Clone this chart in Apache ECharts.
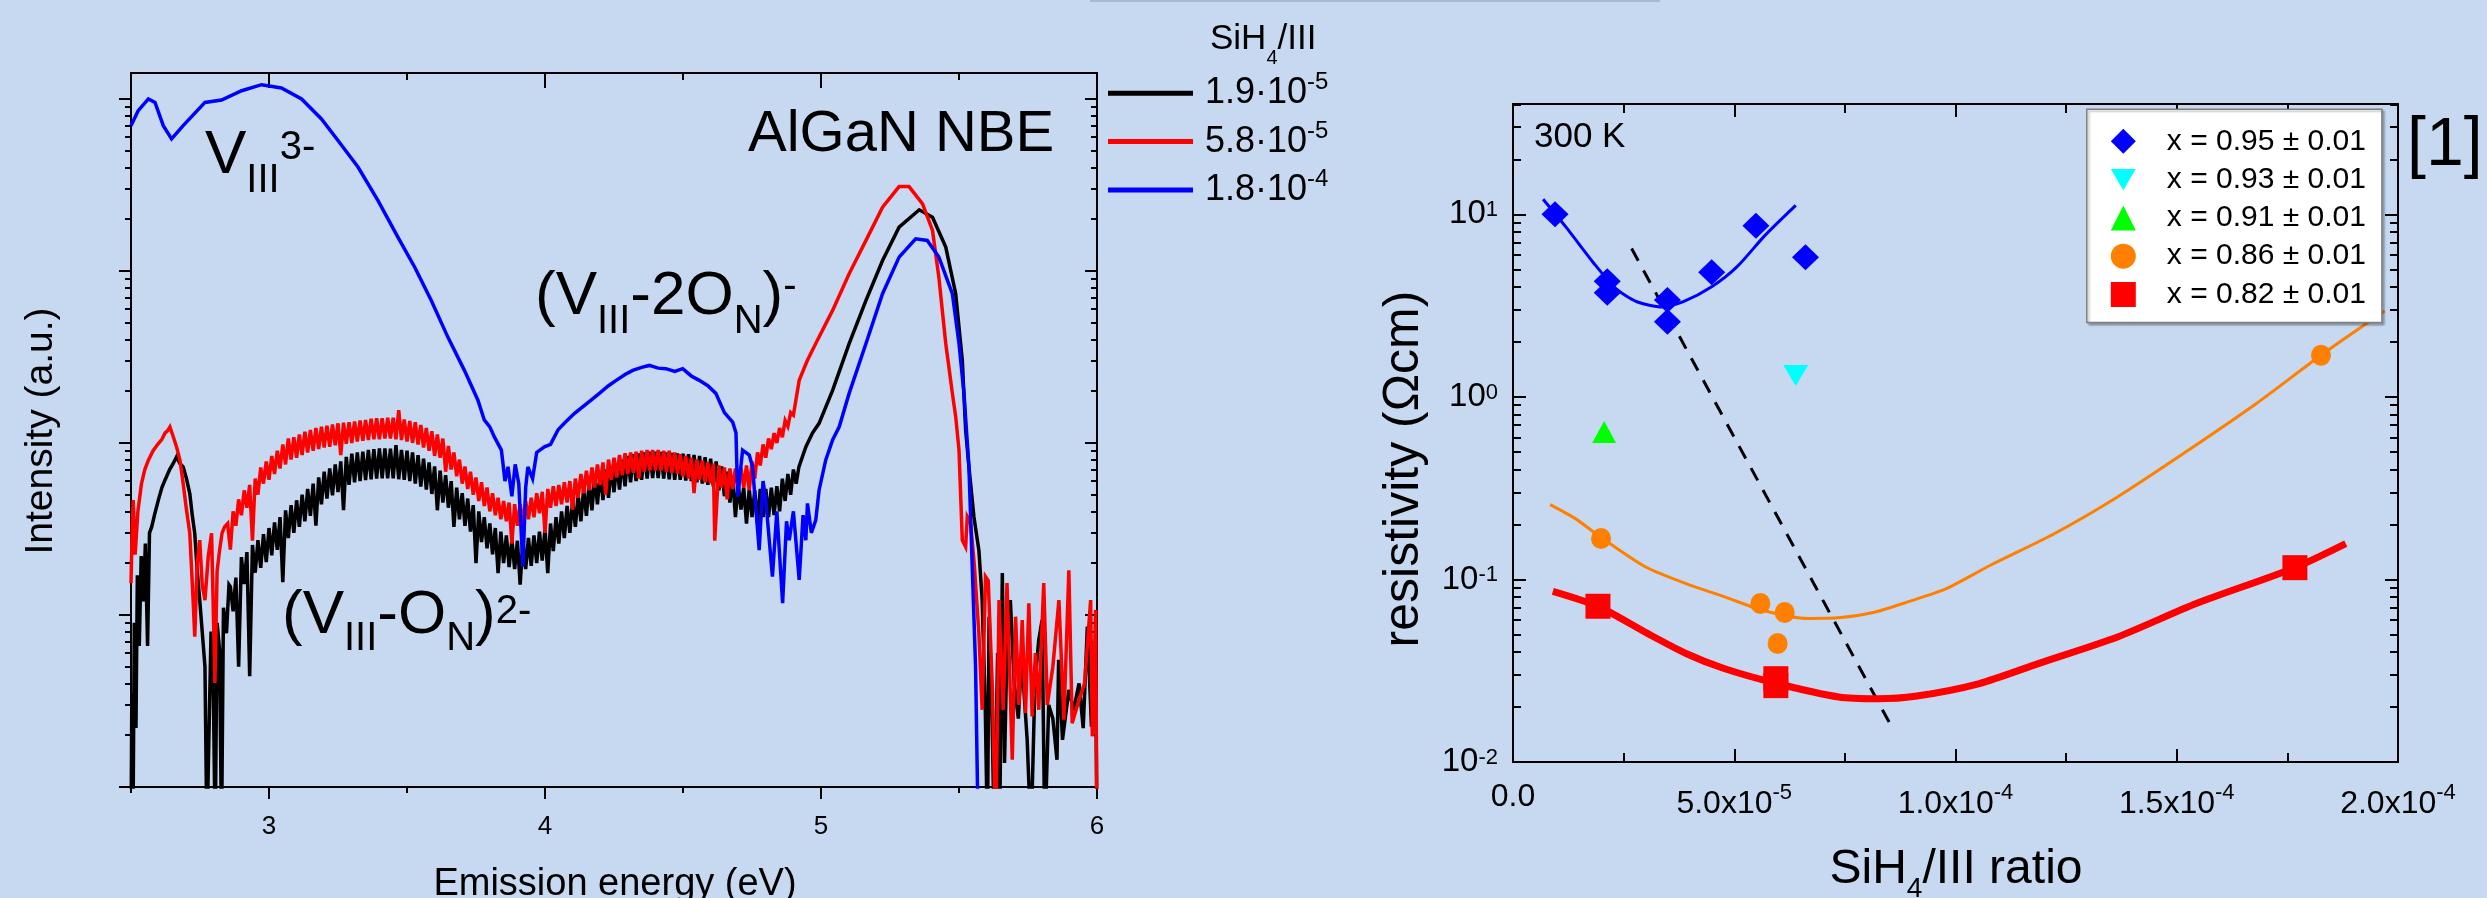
<!DOCTYPE html>
<html><head><meta charset="utf-8">
<script src="https://cdn.jsdelivr.net/npm/echarts@6/dist/echarts.min.js"></script>
<style>html,body{margin:0;padding:0;background:#c6d9f1;}#c{width:2487px;height:898px;}</style>
</head><body><div id="c"></div>
<script>
// ================= DATA =================
// Left panel: PL spectra, [energy eV, intensity a.u.]
const spectrumNames = ['1.9·10^-5', '5.8·10^-5', '1.8·10^-4'];
const legendMantissa = ['1.9', '5.8', '1.8'];
const legendExponent = ['-5', '-5', '-4'];
const energyRange = [2.5, 6];
const energyTicks = [3, 4, 5, 6];
const energyHalfTicks = [2.5, 3.5, 4.5, 5.5];
const intensityRange = [1, 14125];

const spec19 = [[2.500,0.5],[2.503,3.5],[2.507,0.5],[2.512,9],[2.518,2.2],[2.523,17],[2.530,6.6],[2.537,22],[2.545,12],[2.552,26],[2.560,6.6],[2.567,30],[2.575,32.5],[2.585,38],[2.599,46.5],[2.612,55],[2.623,60.7],[2.640,70],[2.653,75.9],[2.665,83.0],[2.677,76],[2.689,72.6],[2.701,62],[2.713,50.8],[2.722,38],[2.731,29.8],[2.740,18],[2.749,12.2],[2.758,8],[2.768,5.0],[2.775,0.5],[2.782,0.5],[2.790,8],[2.798,4.02],[2.805,0.5],[2.812,9],[2.821,6.27],[2.828,0.5],[2.835,11],[2.846,7.83],[2.855,15],
[2.86,14.6],[2.87,10.5],[2.88,16.5],[2.89,5],[2.90,21.7],[2.91,15.1],[2.92,23.2],[2.93,4.4],[2.94,25.5],[2.95,17.6],[2.96,27.2],[2.97,18.8],[2.98,29.5],[2.99,20.3],[3.00,32],[3.01,22.2],[3.02,34.5],[3.03,23.9],[3.04,37],[3.05,15.5],[3.06,40.5],[3.07,28],[3.08,43.5],[3.09,30],[3.10,46.4],[3.11,32.5],[3.12,50],[3.13,35],[3.14,54],[3.15,37.7],[3.16,58],[3.17,33],[3.18,63],[3.19,44],[3.20,68],[3.21,47.5],[3.22,71],[3.23,49.5],[3.24,75],[3.25,51.7],[3.26,78],[3.27,40.6],[3.28,83],[3.29,57],[3.30,86.6],[3.31,59],[3.32,88],[3.33,60],[3.34,89],[3.35,60.7],[3.36,91],[3.37,61.5],[3.38,92],[3.39,62],[3.40,93],[3.41,62.3],[3.42,93],[3.43,62.3],[3.44,92.7],[3.45,62.3],[3.46,97],[3.47,61.5],[3.48,91],[3.49,61],[3.50,90],[3.51,60],[3.52,88],[3.53,58],[3.54,85],[3.55,55.8],[3.56,81],[3.57,53.5],[3.58,77],[3.59,50.5],[3.60,73],[3.61,40.6],[3.62,69],[3.63,45],[3.64,65],[3.65,42],[3.66,60],[3.67,32.5],[3.68,55],[3.69,36],[3.70,51],[3.71,33],[3.72,47.5],[3.73,30.5],[3.74,43.5],[3.75,20],[3.76,40],[3.77,26.5],[3.78,37],[3.79,24.4],[3.80,34],[3.81,22.5],[3.82,32],[3.83,17.5],[3.84,30.5],[3.85,20],[3.86,29],[3.87,19],[3.88,27.5],[3.89,18.5],[3.90,27],[3.91,15],[3.92,27],[3.93,18.5],[3.94,28],[3.95,19.3],[3.96,29],[3.97,20],[3.98,30.5],[3.99,20.7],[4.00,31.7],[4.01,17.5],[4.02,34],[4.03,23.5],[4.04,37],[4.05,26],[4.06,40],[4.07,28],[4.08,43],[4.09,30],[4.10,46.4],[4.11,32.5],[4.12,50],[4.13,35],[4.14,54],[4.15,37.7],[4.16,58],[4.17,40.5],[4.18,63],[4.19,44],[4.20,68],[4.21,46.5],[4.22,70],[4.23,48],[4.24,73],[4.25,51.7],[4.26,76],[4.27,53.5],[4.28,80],[4.29,56],[4.30,84],[4.31,59],[4.32,86],[4.33,60],[4.34,87],[4.35,61],[4.36,88],[4.37,62],[4.38,89],[4.39,62.5],[4.40,89],[4.41,62.5],[4.42,88.5],[4.43,62],[4.44,88],[4.45,61.5],[4.46,87.5],[4.47,61],[4.48,87],[4.49,61],[4.50,86.5],[4.51,60.5],[4.52,86],[4.53,60],[4.54,85],[4.55,59],[4.56,84],[4.57,58],[4.58,82.5],[4.59,57],[4.60,81],[4.61,56],[4.62,78],[4.63,53],[4.64,73],[4.65,49],[4.66,68],[4.67,45],[4.68,63],[4.69,37],[4.70,58],[4.71,41],[4.72,55],[4.73,34],[4.74,54],[4.75,37],[4.76,53],[4.77,34],[4.78,54],[4.79,37],[4.80,54],[4.81,37],[4.82,55],[4.83,38],[4.84,56],[4.85,40],[4.86,62],[4.87,46],[4.88,66],[4.89,50],[4.90,70],[4.91,58],[4.92,72.6],
[4.945,94.8],[4.969,114],[4.993,130],[5.042,202],[5.102,378],[5.163,673],[5.223,1148],[5.283,1795],[5.356,2265],[5.404,2051],[5.452,1374],[5.488,736],[5.512,302],[5.524,119],[5.536,72.6],[5.554,37.2],[5.572,23.8],[5.584,12.2],[5.595,3],[5.603,0.5],[5.609,9.77],[5.618,3.5],[5.628,0.5],[5.640,6],[5.647,0.5],[5.657,17.5],[5.665,1.38],[5.675,8],[5.686,12.2],[5.700,4],[5.715,2.5],[5.725,5],[5.735,3.67],[5.747,1.88],[5.761,0.5],[5.775,4],[5.789,7.16],[5.801,9.35],[5.811,0.5],[5.825,3],[5.840,2.5],[5.855,1.44],[5.861,5.48],[5.875,1.88],[5.898,3.67],[5.915,2.8],[5.935,4],[5.950,2.2],[5.965,8.55],[5.980,2.24],[5.995,5.5],[6.000,0.5]];

const spec58 = [[2.500,15.3],[2.504,30],[2.508,46.5],[2.515,22.4],[2.525,40],[2.538,58.1],[2.550,70],[2.563,79.4],[2.580,90],[2.599,99.1],[2.612,105],[2.623,114],[2.633,118],[2.641,124],[2.652,110],[2.665,94.8],[2.677,80],[2.689,58.1],[2.700,42],[2.713,29.8],[2.725,12.2],[2.731,7.48],[2.740,20],[2.749,27.2],[2.758,15],[2.768,12.2],[2.780,22],[2.792,29.8],[2.804,4.02],[2.812,18],[2.821,23.8],[2.830,30],[2.839,32.5],
[2.85,34],[2.86,24],[2.87,40],[2.88,33],[2.89,47],[2.90,38],[2.91,53],[2.92,42],[2.93,57],[2.94,27],[2.95,62],[2.96,50],[2.97,72],[2.98,58],[2.99,78],[3.00,61],[3.01,84],[3.02,66],[3.03,90],[3.04,71],[3.05,98],[3.06,75],[3.07,106],[3.08,80],[3.09,108],[3.10,82],[3.11,112],[3.12,85],[3.13,116],[3.14,88],[3.15,119],[3.16,90],[3.17,122],[3.18,92],[3.19,124],[3.20,94],[3.21,126],[3.22,95],[3.23,128],[3.24,97],[3.25,130],[3.26,85],[3.27,131],[3.28,99],[3.29,132],[3.30,100],[3.31,133],[3.32,102],[3.33,135],[3.34,103],[3.35,136],[3.36,104],[3.37,138],[3.38,105],[3.39,139],[3.40,105],[3.41,139],[3.42,106],[3.43,140],[3.44,106],[3.45,140],[3.46,105],[3.47,155],[3.48,104],[3.49,137],[3.50,102],[3.51,134],[3.52,100],[3.53,132],[3.54,98],[3.55,127],[3.56,94],[3.57,122],[3.58,90],[3.59,117],[3.60,84],[3.61,112],[3.62,82],[3.63,106],[3.64,68],[3.65,96],[3.66,70],[3.67,88],[3.68,64],[3.69,80],[3.70,58],[3.71,73],[3.72,54],[3.73,68],[3.74,50],[3.75,63],[3.76,46],[3.77,59],[3.78,43],[3.79,55],[3.80,40],[3.81,51],[3.82,38],[3.83,48],[3.84,36],[3.85,46],[3.86,35],[3.87,45],[3.88,26],[3.89,44],[3.90,33],[3.91,44],[3.92,34],[3.93,46],[3.94,36],[3.95,48],[3.96,37],[3.97,51],[3.98,39],[3.99,52],[4.00,30],[4.01,54],[4.02,42],[4.03,56],[4.04,43],[4.05,57],[4.06,44],[4.07,59],[4.08,45],[4.09,60],[4.10,41],[4.11,62],[4.12,48],[4.13,66],[4.14,51],[4.15,69],[4.16,53],[4.17,72],[4.18,55],[4.19,75],[4.20,57],[4.21,77],[4.22,50],[4.23,80],[4.24,61],[4.25,82],[4.26,63],[4.27,85],[4.28,65],[4.29,87],[4.30,66],[4.31,88],[4.32,67],[4.33,89],[4.34,62],[4.35,90],[4.36,68],[4.37,91],[4.38,69],[4.39,91],[4.40,69],[4.41,91],[4.42,69],[4.43,90],[4.44,68],[4.45,90],[4.46,67],[4.47,88],[4.48,66],[4.49,86],[4.50,64],[4.51,84],[4.52,62],[4.53,82],[4.54,51],[4.55,80],[4.56,61],[4.57,79],[4.58,59],[4.59,77],[4.60,58],[4.61,76],[4.615,27],[4.63,74],[4.64,55],[4.65,72],[4.66,47],[4.67,71],[4.68,54],[4.69,71],[4.70,54],[4.71,72],[4.72,55],[4.73,74],[4.74,53],[4.75,78],[4.76,62],[4.77,88],[4.78,74],[4.79,98],[4.80,82],[4.81,106],[4.82,92],[4.83,114],[4.84,100],[4.85,122],[4.86,108],[4.87,135],[4.88,125],[4.89,150],[4.90,145],
[4.921,231],[4.950,300],[4.981,378],[5.042,589],[5.102,962],[5.163,1503],[5.223,2344],[5.283,3090],[5.319,3090],[5.368,2449],[5.404,1718],[5.427,918],[5.452,378],[5.476,194],[5.488,142],[5.500,90.8],[5.512,27.2],[5.524,24.9],[5.530,37.2],[5.542,34.0],[5.555,20],[5.572,7.83],[5.584,2.81],[5.596,16.7],[5.606,15.8],[5.621,3.67],[5.633,0.5],[5.645,12.2],[5.660,2.8],[5.674,15.3],[5.693,1.44],[5.705,9.77],[5.717,3],[5.729,9.35],[5.741,2.69],[5.753,11.7],[5.765,2.57],[5.777,6],[5.789,2.81],[5.807,15.3],[5.820,3],[5.840,5],[5.862,12.2],[5.880,2.46],[5.898,18.2],[5.910,2.35],[5.935,3.21],[5.955,4],[5.977,12.2],[5.983,1.97],[5.995,10.7],[6.000,0.5]];

const spec180 = [[2.500,6980],[2.526,8530],[2.563,9980],[2.587,9530],[2.617,6980],[2.647,5850],[2.689,6980],[2.768,9530],[2.828,9840],[2.901,11140],[2.973,12080],[3.045,11560],[3.118,9980],[3.190,7640],[3.250,5720],[3.323,4000],[3.395,2560],[3.467,1570],[3.528,1050],[3.588,673],[3.648,412],[3.708,264],[3.757,177],[3.780,136],[3.800,124],[3.817,108],[3.842,90.8],[3.855,60],[3.866,72.6],[3.880,49],[3.892,75],[3.905,58],[3.920,19.1],[3.930,55],[3.938,72.6],[3.955,62],[3.970,88],[3.998,94.8],[4.020,98],[4.047,119],[4.070,130],[4.106,148],[4.167,177],[4.197,194],[4.230,215],[4.258,231],[4.290,250],[4.318,264],[4.350,275],[4.378,282],[4.410,272],[4.438,270],[4.470,260],[4.499,270],[4.530,245],[4.559,231],[4.590,215],[4.619,194],[4.650,150],[4.680,132],[4.692,114],[4.698,48.6],[4.716,90.8],[4.740,85],[4.752,72.6],[4.776,23.8],[4.790,60],[4.800,46.5],[4.824,16.7],[4.840,40],[4.861,11.7],[4.875,35],[4.885,27.2],[4.900,40],[4.921,16.0],[4.935,38],[4.945,27.2],[4.951,44.5],[4.965,30],[4.981,35.6],[4.993,53.1],[5.017,79.4],[5.042,104],[5.066,124],[5.102,194],[5.163,378],[5.223,736],[5.283,1202],[5.343,1535],[5.385,1503],[5.427,1202],[5.476,736],[5.500,378],[5.518,194],[5.536,72.6],[5.548,19.1],[5.560,5.0],[5.570,0.5]];

// Right panel: resistivity vs SiH4/III ratio
const ratioRange = [0, 2e-4];
const ratioTicks = [0, 5e-5, 1e-4, 1.5e-4, 2e-4];
const ratioMinorTicks = [2.5e-5, 7.5e-5, 1.25e-4, 1.75e-4];
const resistivityRange = [0.01, 40.2];
const resistivityDecades = [-2, -1, 0, 1];
const scatterNames = ['x = 0.95 ± 0.01', 'x = 0.93 ± 0.01', 'x = 0.91 ± 0.01', 'x = 0.86 ± 0.01', 'x = 0.82 ± 0.01'];
const pts95 = [[0.95e-5,10.0],[2.13e-5,4.3],[2.13e-5,3.72],[3.49e-5,3.39],[3.49e-5,2.58],[4.49e-5,4.81],[5.49e-5,8.65],[6.61e-5,5.81]];
const pts93 = [[6.39e-5,1.31]];
const pts91 = [[2.06e-5,0.643]];
const pts86 = [[1.99e-5,0.1675],[5.59e-5,0.0738],[6.14e-5,0.0659],[5.98e-5,0.0446],[1.826e-4,1.69]];
const pts82 = [[1.92e-5,0.0713],[5.94e-5,0.0286],[5.94e-5,0.0262],[1.767e-4,0.116]];
const fit95 = [[0.68e-5,12.1],[1.19e-5,8.56],[1.83e-5,5.38],[2.32e-5,3.93],[2.80e-5,3.32],[3.37e-5,3.11],[3.85e-5,3.32],[4.49e-5,4.01],[5.06e-5,5.15],[5.70e-5,7.69],[6.39e-5,11.2]];
const fit86 = [[0.84e-5,0.257],[1.4e-5,0.216],[1.99e-5,0.17],[3.0e-5,0.117],[3.91e-5,0.0949],[4.8e-5,0.080],[5.64e-5,0.0678],[6.67e-5,0.0611],[7.4e-5,0.0618],[8.14e-5,0.0659],[8.92e-5,0.0753],[9.79e-5,0.089],[1.08e-4,0.12],[1.223e-4,0.178],[1.366e-4,0.283],[1.526e-4,0.51],[1.68e-4,0.92],[1.826e-4,1.69],[1.97e-4,2.95]];
const fit82 = [[0.90e-5,0.0861],[1.92e-5,0.0713],[3.04e-5,0.0506],[3.91e-5,0.0393],[4.77e-5,0.0325],[5.94e-5,0.027],[7.36e-5,0.0227],[8.23e-5,0.0222],[9.09e-5,0.0229],[1.054e-4,0.0269],[1.187e-4,0.0346],[1.366e-4,0.0484],[1.544e-4,0.0738],[1.767e-4,0.116],[1.882e-4,0.157]];
const guideLine = [[2.68e-5,6.5],[8.58e-5,0.01524]];

// ================= RENDER =================
const FONT = '"Liberation Sans", Arial, sans-serif';
const GL = {left:131, top:73, width:966, height:714};
const GR = {left:1513, top:104, width:885, height:658};
const K = 0.35;
const DOWN_TRIANGLE = 'path://M0,0 L20,0 L10,17 Z';

const mctx = document.createElement('canvas').getContext('2d');
function tw(t, fs) { mctx.font = fs + 'px ' + FONT; return mctx.measureText(t).width; }
function composite(x, base, parts, anchor) {
  const total = parts.reduce((s, p) => s + tw(p[0], p[1]), 0);
  let cx = anchor === 'center' ? x - total / 2 : x;
  return parts.map(([t, fs, dy]) => {
    const el = {type:'text', x: cx, y: base + dy - K * fs, z: 100,
      style: {text: t, font: fs + 'px ' + FONT, fontSize: fs, fontFamily: FONT, fill: '#000',
        align: 'left', verticalAlign: 'middle', textAlign: 'left', textVerticalAlign: 'middle'}};
    cx += tw(t, fs);
    return el;
  });
}
function rotText(x, y, t, fs) {
  return {type:'text', x, y, rotation: Math.PI / 2, z: 100,
    style: {text: t, font: fs + 'px ' + FONT, fontSize: fs, fontFamily: FONT, fill:'#000',
      align:'center', verticalAlign:'middle', textAlign:'center', textVerticalAlign:'middle'}};
}

function axis(o) {
  return {
    type: o.type || 'value', gridIndex: o.grid, position: o.pos, min: o.min, max: o.max,
    show: o.show !== false,
    axisLine: {show: !!o.line, onZero: false, lineStyle: {color: '#000', width: 2}},
    axisTick: o.ticks ? {show: true, inside: !!o.inside, length: o.len, customValues: o.ticks,
      lineStyle: {color: '#000', width: 2}} : {show: false},
    axisLabel: o.labels ? Object.assign({show: true, customValues: o.labels, color: '#000', fontFamily: FONT}, o.labelOpts) : {show: false},
    splitLine: {show: false}, minorTick: {show: false}, minorSplitLine: {show: false}
  };
}
const lgMax = Math.log10(intensityRange[1]);
const lgMinorL = [], lgMinorR = [];
for (let d = 0; d <= 4; d++) for (let k = 2; k <= 9; k++) { const v = d + Math.log10(k); if (v < lgMax) lgMinorL.push(v); }
const rLo = Math.log10(resistivityRange[0]), rHi = Math.log10(resistivityRange[1]);
for (let d = -2; d <= 1; d++) for (let k = 2; k <= 9; k++) { const v = d + Math.log10(k); if (v < rHi) lgMinorR.push(v); }

const xAxes = [
  axis({grid:0, pos:'bottom', min:energyRange[0], max:energyRange[1], line:true, ticks:energyTicks, len:12, labels:energyTicks, labelOpts:{fontSize:26, margin:27}}),
  axis({grid:0, pos:'top', min:energyRange[0], max:energyRange[1], line:true, ticks:energyTicks, len:15, inside:true}),
  axis({grid:1, pos:'bottom', min:energyRange[0], max:energyRange[1], ticks:energyHalfTicks, len:6}),
  axis({grid:1, pos:'top', min:energyRange[0], max:energyRange[1], ticks:energyHalfTicks, len:7, inside:true}),
  axis({grid:2, pos:'bottom', min:0, max:1, show:false}),
  axis({grid:3, pos:'bottom', min:ratioRange[0], max:ratioRange[1], line:true, ticks:ratioTicks, len:13, inside:true, labels:ratioTicks,
    labelOpts:{margin:20, formatter: v => {
      if (v === 0) return '{z|0.0}';
      const e = Math.floor(Math.log10(v) + 1e-9); const m = (v / Math.pow(10, e)).toFixed(1);
      return '{b|' + m + 'x10}{s|' + e + '}';
    }, rich:{z:{fontSize:32, lineHeight:30, fontFamily:FONT, color:'#000'}, b:{fontSize:32, lineHeight:45, fontFamily:FONT, color:'#000'}, s:{fontSize:22, lineHeight:22, verticalAlign:'top', fontFamily:FONT, color:'#000'}}}}),
  axis({grid:3, pos:'top', min:ratioRange[0], max:ratioRange[1], line:true, ticks:ratioTicks, len:13, inside:true}),
  axis({grid:4, pos:'bottom', min:ratioRange[0], max:ratioRange[1], ticks:ratioMinorTicks, len:9, inside:true}),
  axis({grid:4, pos:'top', min:ratioRange[0], max:ratioRange[1], ticks:ratioMinorTicks, len:9, inside:true}),
  axis({grid:5, pos:'bottom', min:0, max:1, show:false})
];
const yAxes = [
  axis({grid:0, pos:'left', type:'log', min:intensityRange[0], max:intensityRange[1], line:true}),
  axis({grid:0, pos:'right', type:'log', min:intensityRange[0], max:intensityRange[1], line:true}),
  axis({grid:1, pos:'left', min:0, max:lgMax, ticks:[0,1,2,3,4], len:12}),
  axis({grid:1, pos:'right', min:0, max:lgMax, ticks:[0,1,2,3,4], len:12, inside:true}),
  axis({grid:2, pos:'left', min:0, max:lgMax, ticks:lgMinorL, len:6}),
  axis({grid:2, pos:'right', min:0, max:lgMax, ticks:lgMinorL, len:6, inside:true}),
  axis({grid:3, pos:'left', type:'log', min:resistivityRange[0], max:resistivityRange[1], line:true}),
  axis({grid:3, pos:'right', type:'log', min:resistivityRange[0], max:resistivityRange[1], line:true}),
  axis({grid:4, pos:'left', min:rLo, max:rHi, ticks:resistivityDecades, len:13, inside:true, labels:resistivityDecades,
    labelOpts:{margin:15, formatter: v => '{b|10}{s|' + Math.round(v) + '}',
      rich:{b:{fontSize:33, lineHeight:30, fontFamily:FONT, color:'#000'}, s:{fontSize:22, lineHeight:22, verticalAlign:'top', fontFamily:FONT, color:'#000'}}}}),
  axis({grid:4, pos:'right', min:rLo, max:rHi, ticks:resistivityDecades, len:13, inside:true}),
  axis({grid:5, pos:'left', min:rLo, max:rHi, ticks:lgMinorR, len:8, inside:true}),
  axis({grid:5, pos:'right', min:rLo, max:rHi, ticks:lgMinorR, len:8, inside:true})
];

function specSeries(name, data, color, width) {
  return {type:'line', name, data, xAxisIndex:0, yAxisIndex:0, symbol:'none', showSymbol:false,
    lineStyle:{color, width, join:'miter', miterLimit:4}, itemStyle:{color}, clip:true, silent:true};
}
function fitSeries(data, color, width, dash) {
  return {type:'line', data, xAxisIndex:5, yAxisIndex:6, symbol:'none', showSymbol:false, smooth: dash ? false : 0.25,
    lineStyle:{color, width, type: dash || 'solid', cap:'butt'}, clip:true, silent:true, z:2};
}
function ptSeries(name, data, color, symbol, size) {
  return {type:'scatter', name, data, xAxisIndex:5, yAxisIndex:6, symbol, symbolSize:size,
    itemStyle:{color, opacity:1}, silent:true, z:5};
}

const graphics = [
  {type:'line', shape:{x1:1090, y1:1, x2:1660, y2:1}, style:{stroke:'#aab9cf', lineWidth:2}},
  ...composite(748, 155, [['AlGaN NBE', 58, 0]]),
  ...composite(205, 178, [['V', 62, 0], ['III', 40, 17], ['3-', 40, -16]]),
  ...composite(535, 319, [['(V', 62, 0], ['III', 40, 17], ['-2O', 62, 0], ['N', 40, 17], [')', 62, 0], ['-', 40, -18]]),
  ...composite(282, 638, [['(V', 62, 0], ['III', 40, 15], ['-O', 62, 0], ['N', 40, 15], [')', 62, 0], ['2-', 40, -12]]),
  ...composite(1210, 52, [['SiH', 35, 0], ['4', 20, 13], ['/III', 35, 0]]),
  ...composite(1534, 150, [['300 K', 35, 0]]),
  ...composite(2407, 170, [['[1]', 68, 0]]),
  ...composite(615, 898, [['Emission energy (eV)', 38, 0]], 'center'),
  ...composite(1956, 887, [['SiH', 48, 0], ['4', 28, 12], ['/III ratio', 48, 0]], 'center'),
  rotText(41, 431, 'Intensity (a.u.)', 39),
  rotText(1404, 469, 'resistivity (Ωcm)', 50)
];

const option = {
  backgroundColor: '#c6d9f1',
  animation: false,
  textStyle: {fontFamily: FONT},
  grid: [Object.assign({}, GL), Object.assign({}, GL), Object.assign({}, GL),
         Object.assign({}, GR), Object.assign({}, GR), Object.assign({}, GR)].map(g => Object.assign(g, {containLabel:false})),
  xAxis: xAxes,
  yAxis: yAxes,
  legend: [
    {data: spectrumNames, orient:'vertical', left:1108, top:70.8, padding:0, itemWidth:85, itemHeight:5, itemGap:7.8,
     icon:'rect', selectedMode:false,
     formatter: name => { const i = spectrumNames.indexOf(name); return '{b|' + legendMantissa[i] + '·10}{s|' + legendExponent[i] + '}'; },
     textStyle:{padding:[0,0,0,7], rich:{b:{fontSize:36, lineHeight:45, fontFamily:FONT, color:'#000'}, s:{fontSize:24, lineHeight:24, verticalAlign:'top', fontFamily:FONT, color:'#000'}}}},
    {data: scatterNames, orient:'vertical', left:2086.8, top:109.3, padding:[17,16,13,24], itemWidth:25, itemHeight:25, itemGap:8.3,
     selectedMode:false, backgroundColor:'#ffffff', borderColor:'#7f7f7f', borderWidth:1.5,
     shadowColor:'rgba(0,0,0,0.25)', shadowBlur:2, shadowOffsetX:2, shadowOffsetY:2,
     textStyle:{fontSize:30, lineHeight:30, fontFamily:FONT, color:'#000', padding:[0,0,0,26]}}
  ],
  series: [
    specSeries(spectrumNames[0], spec19, '#000000', 3.5),
    specSeries(spectrumNames[1], spec58, '#ff0000', 3.5),
    specSeries(spectrumNames[2], spec180, '#0000ff', 3.5),
    fitSeries(guideLine, '#000000', 3, [14, 11]),
    fitSeries(fit86, '#ff8000', 3),
    fitSeries(fit82, '#ff0000', 7),
    fitSeries(fit95, '#0000ff', 3),
    ptSeries(scatterNames[0], pts95, '#0000ff', 'diamond', [27, 26]),
    ptSeries(scatterNames[1], pts93, '#00ffff', DOWN_TRIANGLE, [25, 21]),
    ptSeries(scatterNames[2], pts91, '#00ff00', 'triangle', [24, 22]),
    ptSeries(scatterNames[3], pts86, '#ff8000', 'circle', [20, 21]),
    ptSeries(scatterNames[4], pts82, '#ff0000', 'rect', [25, 25])
  ],
  graphic: graphics
};
const chart = echarts.init(document.getElementById('c'), null, {renderer:'canvas', width:2487, height:898});
chart.setOption(option);
</script>
</body></html>
